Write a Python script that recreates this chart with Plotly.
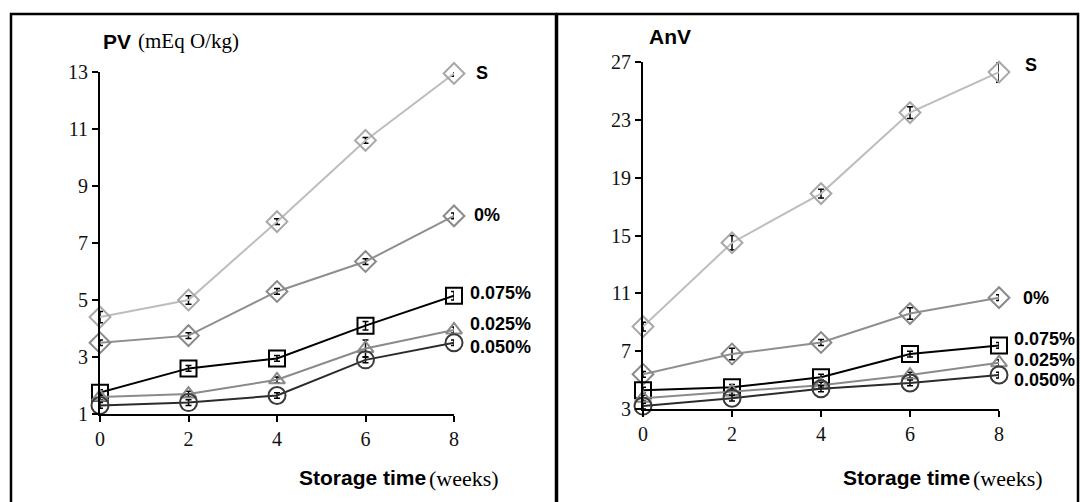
import plotly.graph_objects as go

W, H = 1081, 502

weeks = [0, 2, 4, 6, 8]
series_names = ["S", "0%", "0.075%", "0.025%", "0.050%"]

# PV (mEq O/kg)
pv_S = [4.4, 5.0, 7.75, 10.6, 12.95]
pv_0 = [3.5, 3.75, 5.3, 6.35, 7.95]
pv_075 = [1.75, 2.6, 2.95, 4.1, 5.15]
pv_025 = [1.6, 1.7, 2.2, 3.3, 3.95]
pv_050 = [1.3, 1.4, 1.65, 2.9, 3.5]
pv_err_S = [0.2, 0.15, 0.1, 0.1, 0.1]
pv_err_0 = [0.1, 0.1, 0.1, 0.1, 0.1]
pv_err_075 = [0.1, 0.1, 0.1, 0.15, 0.15]
pv_err_025 = [0.1, 0.1, 0.1, 0.3, 0.1]
pv_err_050 = [0.1, 0.1, 0.1, 0.1, 0.1]

# AnV
anv_S = [8.7, 14.5, 17.9, 23.5, 26.3]
anv_0 = [5.4, 6.8, 7.6, 9.6, 10.7]
anv_075 = [4.3, 4.5, 5.2, 6.8, 7.4]
anv_025 = [3.75, 4.2, 4.65, 5.35, 6.2]
anv_050 = [3.2, 3.75, 4.4, 4.8, 5.35]
anv_err_S = [0.3, 0.5, 0.3, 0.4, 0.7]
anv_err_0 = [0.2, 0.4, 0.2, 0.4, 0.2]
anv_err_075 = [0.2, 0.2, 0.2, 0.2, 0.2]
anv_err_025 = [0.2, 0.2, 0.2, 0.2, 0.2]
anv_err_050 = [0.2, 0.2, 0.2, 0.2, 0.2]

pv_ticks = [1, 3, 5, 7, 9, 11, 13]
anv_ticks = [3, 7, 11, 15, 19, 23, 27]
x_ticks = [0, 2, 4, 6, 8]

styles = {
    "S": dict(color="#bdbdbd", mcolor="#a8a8a8", symbol="diamond-open", size=16),
    "0%": dict(color="#8f8f8f", mcolor="#8a8a8a", symbol="diamond-open", size=16),
    "0.075%": dict(color="#000000", mcolor="#000000", symbol="square-open", size=16),
    "0.025%": dict(color="#8a8a8a", mcolor="#8a8a8a", symbol="triangle-up-open", size=14),
    "0.050%": dict(color="#2b2b2b", mcolor="#3a3a3a", symbol="circle-open", size=17),
}


def px(x):
    return x / W


def py(y):
    return 1 - y / H


fig = go.Figure()

panels = [
    ("x", "y", [pv_S, pv_0, pv_075, pv_025, pv_050],
     [pv_err_S, pv_err_0, pv_err_075, pv_err_025, pv_err_050]),
    ("x2", "y2", [anv_S, anv_0, anv_075, anv_025, anv_050],
     [anv_err_S, anv_err_0, anv_err_075, anv_err_025, anv_err_050]),
]

for xa, ya, vals, errs in panels:
    for name, v, e in zip(series_names, vals, errs):
        st = styles[name]
        fig.add_trace(go.Scatter(
            x=weeks, y=v, xaxis=xa, yaxis=ya, mode="lines+markers",
            name=name, showlegend=False, cliponaxis=False,
            line=dict(color=st["color"], width=2),
            marker=dict(symbol=st["symbol"], size=st["size"],
                        color=st["mcolor"], line=dict(width=2, color=st["mcolor"])),
            error_y=dict(type="data", array=e, visible=True, color="#000000",
                         thickness=1.5, width=3),
        ))

axis_common = dict(showline=True, linecolor="black", linewidth=2, ticks="outside",
                   ticklen=6, tickwidth=2, tickcolor="black", showgrid=False,
                   zeroline=False, mirror=False, automargin=False,
                   tickfont=dict(family="Liberation Serif", size=20, color="#111"))

fig.update_layout(
    width=W, height=H, margin=dict(l=0, r=0, t=0, b=0, pad=0),
    paper_bgcolor="white", plot_bgcolor="rgba(0,0,0,0)",
    xaxis=dict(domain=[px(100), px(454)], range=[0, 8], tickvals=x_ticks,
               anchor="y", **axis_common),
    yaxis=dict(domain=[py(414), py(72)], range=[1, 13], tickvals=pv_ticks,
               anchor="x", **axis_common),
    xaxis2=dict(domain=[px(643), px(999)], range=[0, 8], tickvals=x_ticks,
                anchor="y2", **axis_common),
    yaxis2=dict(domain=[py(409), py(62)], range=[3, 27], tickvals=anv_ticks,
                anchor="x2", **axis_common),
)

# panel borders
for x0, x1 in [(11, 556), (557, 1078)]:
    fig.add_shape(type="rect", xref="paper", yref="paper",
                  x0=px(x0), x1=px(x1), y0=-0.05, y1=py(14),
                  line=dict(color="black", width=2.5), fillcolor="rgba(0,0,0,0)")

sans = dict(family="Liberation Sans", color="black")
serif = dict(family="Liberation Serif", color="black")


def ann(text, x, y, font, size):
    fig.add_annotation(text=text, xref="paper", yref="paper", x=px(x), y=py(y),
                       xanchor="left", yanchor="middle", showarrow=False,
                       font=dict(size=size, **font))


# titles
ann("<b>PV</b>", 101, 41, sans, 21)
ann("(mEq O/kg)", 136, 41, serif, 21)
ann("<b>AnV</b>", 647, 36, sans, 21)
ann("<b>Storage time</b>", 297, 477, sans, 21)
ann("(weeks)", 427, 478, serif, 22)
ann("<b>Storage time</b>", 841, 477, sans, 21)
ann("(weeks)", 971, 478, serif, 22)

# series labels
left_lab = [(474, 73), (472, 215), (468, 293), (468, 324), (468, 347)]
right_lab = [(1023, 65), (1021, 298), (1012, 339), (1012, 360), (1012, 380)]
for name, (lx, ly) in zip(series_names, left_lab):
    ann("<b>" + name + "</b>", lx, ly, sans, 18)
for name, (lx, ly) in zip(series_names, right_lab):
    ann("<b>" + name + "</b>", lx, ly, sans, 18)

fig.write_html("out.html", config={"displayModeBar": False},
               post_script="document.body.style.margin='0';document.body.style.padding='0';"
                           "document.documentElement.style.overflow='hidden';")
